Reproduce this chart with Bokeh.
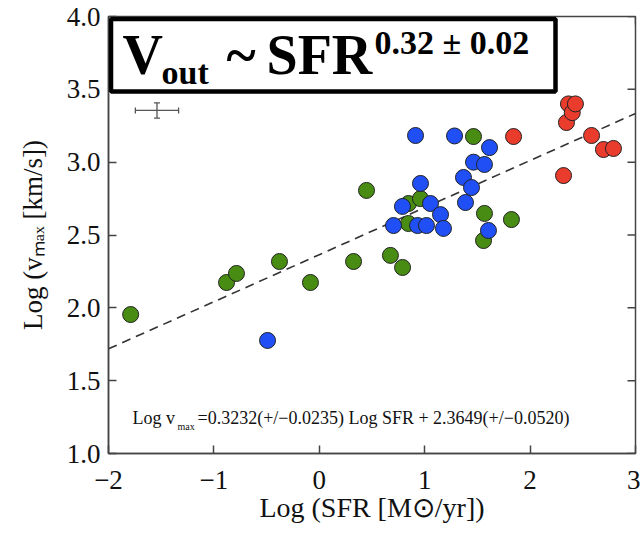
import math
from bokeh.plotting import figure
from bokeh.models import Label, BoxAnnotation, FixedTicker, PrintfTickFormatter
from bokeh.embed import file_html
from bokeh.resources import INLINE

# ---------------- data ----------------
sfr_green = [-1.79, -0.88, -0.786, -0.378, -0.084, 0.325, 0.448, 0.675, 0.79,
             0.846, 0.846, 0.96, 1.463, 1.567, 1.558, 1.823]
vmax_green = [1.954, 2.174, 2.236, 2.318, 2.174, 2.318, 2.806, 2.36, 2.277,
              2.716, 2.579, 2.75, 3.176, 2.648, 2.462, 2.606]

sfr_blue = [-0.491, 0.704, 0.789, 0.913, 0.932, 0.96, 1.017, 1.055, 1.15, 1.178,
            1.283, 1.368, 1.387, 1.444, 1.463, 1.567, 1.605, 1.615]
vmax_blue = [1.776, 2.565, 2.696, 3.183, 2.565, 2.854, 2.565, 2.716, 2.64, 2.545,
             3.18, 2.895, 2.723, 2.826, 3.0, 2.984, 2.531, 3.10]

sfr_red = [1.843, 2.317, 2.345, 2.364, 2.40, 2.43, 2.583, 2.696, 2.791]
vmax_red = [3.176, 2.908, 3.272, 3.40, 3.34, 3.40, 3.183, 3.087, 3.094]

fit_slope = 0.3232
fit_intercept = 2.3649

err_x, err_y = -1.54, 3.355
err_dx, err_dy = 0.205, 0.052

x_ticks = [-2, -1, 0, 1, 2, 3]
y_ticks = [1.0, 1.5, 2.0, 2.5, 3.0, 3.5, 4.0]

x_title = "Log (SFR [M\u2299/yr])"
y_title = "Log (v\u2098\u2090\u2093 [km/s])"

# ---------------- layout ----------------
W, H = 640, 533
FL, FR, FT, FB = 108, 635, 16, 453
X0, X1, Y0, Y1 = -2, 3, 1, 4
SERIF = "Liberation Serif"
AX = "#444444"
TICK = 8  # inward tick length, px


def dx(px):
    return X0 + (px - FL) * (X1 - X0) / (FR - FL)


def dy(py):
    return Y1 - (py - FT) * (Y1 - Y0) / (FB - FT)


PX_X = (X1 - X0) / (FR - FL)   # data units per pixel, x
PX_Y = (Y1 - Y0) / (FB - FT)   # data units per pixel, y

p = figure(width=W, height=H, x_range=(X0, X1), y_range=(Y0, Y1),
           output_backend="svg", toolbar_location=None,
           min_border_left=FL, min_border_right=W - FR,
           min_border_top=FT, min_border_bottom=H - FB)
p.background_fill_color = "white"
p.border_fill_color = "white"
p.grid.visible = False
p.outline_line_color = AX
p.outline_line_width = 1.5

for ax in (p.xaxis[0], p.yaxis[0]):
    ax.axis_line_color = AX
    ax.axis_line_width = 1.5
    ax.major_tick_line_color = AX
    ax.major_tick_line_width = 1.5
    ax.major_tick_in = TICK
    ax.major_tick_out = 0
    ax.minor_tick_line_color = None
    ax.major_label_text_font = SERIF
    ax.major_label_text_font_size = "27px"
    ax.major_label_text_color = "#111111"
    ax.axis_label_text_font = SERIF
    ax.axis_label_text_font_style = "normal"
    ax.axis_label_text_color = "#111111"

p.xaxis.ticker = FixedTicker(ticks=x_ticks)
p.yaxis.ticker = FixedTicker(ticks=y_ticks)
p.xaxis.formatter = PrintfTickFormatter(format="%d")
p.xaxis.major_label_overrides = {t: ("\u2212" + str(-t) if t < 0 else str(t)) for t in x_ticks}
p.yaxis.formatter = PrintfTickFormatter(format="%.1f")
p.xaxis.major_label_standoff = 17
p.yaxis.major_label_standoff = 8

p.xaxis.axis_label = x_title
p.xaxis.axis_label_text_font_size = "28px"
p.xaxis.axis_label_standoff = 0
p.yaxis.axis_label = y_title
p.yaxis.axis_label_text_font_size = "27px"
p.yaxis.axis_label_standoff = 16

# inward ticks on the right and top edges of the frame
p.segment([X1] * len(y_ticks), y_ticks, [X1 - TICK * PX_X] * len(y_ticks), y_ticks,
          line_color=AX, line_width=1.5)
p.segment(x_ticks, [Y1] * len(x_ticks), x_ticks, [Y1 - TICK * PX_Y] * len(x_ticks),
          line_color=AX, line_width=1.5)

# fit line
p.line([X0, X1], [fit_intercept + fit_slope * X0, fit_intercept + fit_slope * X1],
       line_color="#333333", line_width=1.6, line_dash="9 6")

# points
common = dict(size=16, line_color="#222222", line_width=1)
p.scatter(sfr_green, vmax_green, fill_color="#488c14", **common)
p.scatter(sfr_blue, vmax_blue, fill_color="#1f4ff5", **common)
p.scatter(sfr_red, vmax_red, fill_color="#ea3c2d", **common)

# error bar
p.segment([err_x - err_dx, err_x], [err_y, err_y - err_dy],
          [err_x + err_dx, err_x], [err_y, err_y + err_dy],
          line_color="#555555", line_width=1.3)
p.scatter([err_x - err_dx, err_x + err_dx], [err_y, err_y], marker="dash",
          angle=math.pi / 2, size=6, line_color="#555555", line_width=1.3)
p.scatter([err_x, err_x], [err_y - err_dy, err_y + err_dy], marker="dash",
          size=6, line_color="#555555", line_width=1.3)

BASE_SHIFT = 0.3  # rendered baseline sits this many em below the anchor


def lab(text, px, py, size, bold=False, color="#111111"):
    p.add_layout(Label(x=dx(px), y=dy(py - BASE_SHIFT * size), text=text,
                       text_font=SERIF, text_font_size=f"{size}px",
                       text_font_style="bold" if bold else "normal",
                       text_color=color, text_align="left",
                       text_baseline="alphabetic"))


# equation annotation
lab("Log v", 132, 423, 18)
lab("max", 177, 429, 10)
lab("=0.3232(+/\u22120.0235) Log SFR + 2.3649(+/\u22120.0520)", 197, 423, 18)

# title box (kept inside the frame)
p.add_layout(BoxAnnotation(left=dx(FL + 2.5), right=dx(555), top=dy(FT + 2.5), bottom=dy(91),
                           fill_color="white", fill_alpha=1.0,
                           line_color="black", line_alpha=1.0, line_width=4.5))
lab("V", 122, 71, 56, bold=True, color="black")
lab("out", 161, 82, 34, bold=True, color="black")
lab("~", 226, 71, 56, bold=True, color="black")
lab("SFR", 266, 71, 56, bold=True, color="black")
lab("0.32 \u00b1 0.02", 374, 52, 34, bold=True, color="black")

open("out.html", "w").write(file_html(p, INLINE))
